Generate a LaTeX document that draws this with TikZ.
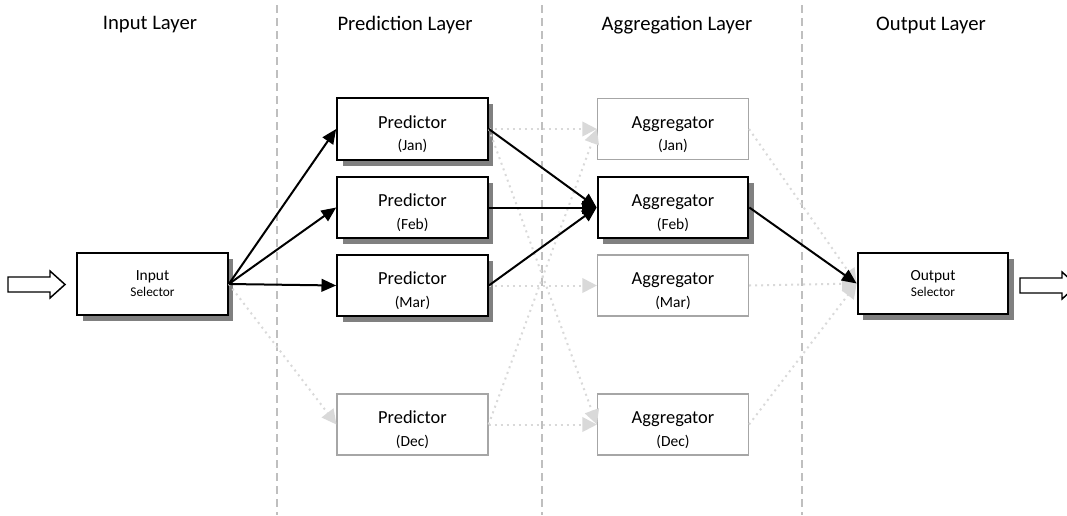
\documentclass[tikz,border=0pt]{standalone}
\usepackage{fontspec}
\setmainfont{Carlito}
\usetikzlibrary{positioning, arrows.meta, shadows}

\tikzset{
  box/.style={draw, line width=1.5pt, fill=white, minimum width=113pt,
    minimum height=46pt, align=center, inner sep=2pt},
  boxshadow/.style={drop shadow={shadow xshift=4pt, shadow yshift=-4.5pt,
    fill=black!50, opacity=1}},
  live/.style={box, boxshadow},
  faded/.style={box, draw=black!35, line width=1.1pt},
  hdr/.style={font=\fontsize{15.5}{18}\selectfont},
  link/.style={line width=1.5pt, -{Triangle[length=11pt, width=9.5pt]}},
  faint/.style={black!15, line width=1.5pt, dash pattern=on 1.5pt off 3pt,
    -{Triangle[length=11pt, width=11pt]}},
  divider/.style={black!25, line width=1.25pt, dash pattern=on 6pt off 3.75pt},
  blockarrow/.style={draw, line width=1.1pt, fill=white}
}

% the strut pushes the two lines a little below the middle
\newcommand{\unitname}[2]{\fontsize{13.8}{16}\selectfont\rule{0pt}{17.5pt}#1\\[5pt]{\fontsize{11.6}{14}\selectfont (#2)}}
\newcommand{\selname}[1]{\fontsize{11.6}{14.2}\selectfont #1\\Selector}

\begin{document}
\begin{tikzpicture}[x=0.75pt, y=-0.75pt]
\useasboundingbox (0,0) rectangle (1067,515);

% layer borders and titles
\foreach \x in {277, 542, 802}
  \draw[divider] (\x,5) -- (\x,515);
\node[hdr] (h-in)  at (150,25) {Input Layer};
\node[hdr] (h-pre) at (405,25) {Prediction Layer};
\node[hdr] (h-agg) at (677,25) {Aggregation Layer};
\node[hdr] (h-out) at (931,25) {Output Layer};

% selectors
\node[live] (insel)  at (152.5,284) {\selname{Input}};
\node[live] (outsel) at (933,283.5) {\selname{Output}};

% predictors and aggregators
\foreach \m/\y/\st in {Jan/129/live, Feb/207.5/live, Mar/285.5/live, Dec/424.5/faded}
  \node[\st] (pred-\m) at (412.5,\y) {\unitname{Predictor}{\m}};
\foreach \m/\y/\st in {Jan/129/faded, Feb/207.5/live, Mar/285.5/faded, Dec/424.5/faded}
  \node[\st] (agg-\m) at (673,\y) {\unitname{Aggregator}{\m}};

% block arrows in and out
\coordinate (inarrow) at (8,284.5);
\coordinate (outarrow) at (1020,285.5);
\foreach \c in {inarrow, outarrow}
  \draw[blockarrow] (\c) ++(0,-7.5) -- ++(42,0) -- ++(0,-6) -- ++(15,13.5)
    -- ++(-15,13.5) -- ++(0,-6) -- ++(-42,0) -- cycle;

% unused routes
\draw[faint] (insel.east) -- (pred-Dec.west);
\draw[faint] (pred-Jan.east) -- (agg-Jan.west);
\draw[faint] (pred-Jan.east) -- (agg-Dec.west);
\draw[faint] (pred-Mar.east) -- (agg-Mar.west);
\draw[faint] (pred-Dec.east) -- (agg-Jan.west);
\draw[faint] (pred-Dec.east) -- (agg-Dec.west);
\foreach \m in {Jan, Mar, Dec}
  \draw[faint] (agg-\m.east) -- (outsel.west);

% active route
\foreach \m in {Jan, Feb, Mar} {
  \draw[link] (insel.east) -- (pred-\m.west);
  \draw[link] (pred-\m.east) -- (agg-Feb.west);
}
\draw[link] (agg-Feb.east) -- (outsel.west);

\end{tikzpicture}
\end{document}
